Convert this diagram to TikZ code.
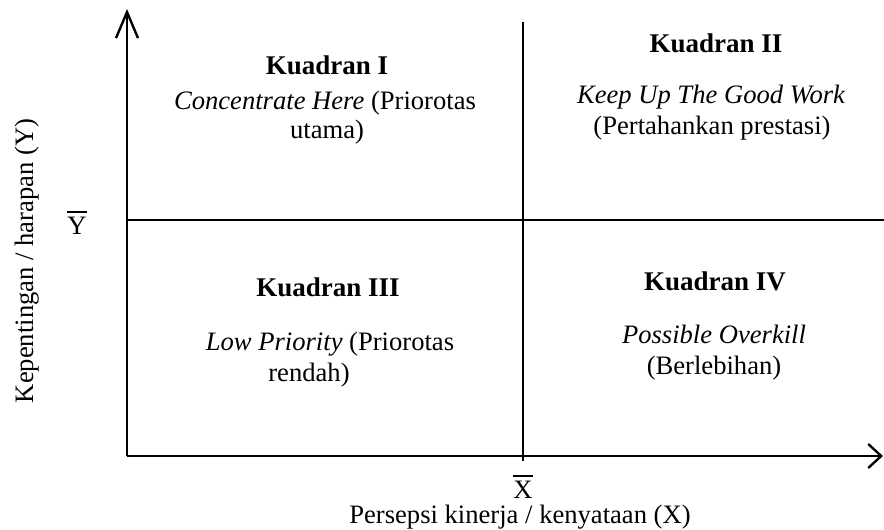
\documentclass[tikz,border=0pt]{standalone}
\usepackage{fontspec}
\setmainfont{Liberation Serif}
\usetikzlibrary{arrows.meta}
% letter with a bar above it (mean value)
\newcommand\meanof[1]{\vbox{\hrule height 1.3pt\kern 4pt\hbox{#1}}}
\begin{document}
\begin{tikzpicture}[x=1pt,y=-1pt,
  axis/.style={line width=2.4pt},
  divider/.style={line width=2.4pt},
  txt/.style={anchor=base, inner sep=0pt, font=\fontsize{26.6}{30}\selectfont},
  head/.style={txt, font=\fontsize{27}{30}\selectfont\bfseries}]
\useasboundingbox (0,0) rectangle (884,530);

% axes
\coordinate (O) at (127,456);
\coordinate (ytop) at (127,9);
\coordinate (xend) at (883,456);
\draw[axis,-{Straight Barb[length=26pt,width=22pt]}] (O) -- (ytop);
\draw[axis,-{Straight Barb[length=13pt,width=24pt]}] (O) -- (xend);

% quadrant dividers at the means
\coordinate (vtop) at (523,22);
\coordinate (vbot) at (523,461);
\coordinate (hleft) at (127,220);
\coordinate (hright) at (884,220);
\draw[divider] (vtop) -- (vbot);
\draw[divider] (hleft) -- (hright);

% axis labels
\node[txt] (ybar) at (77,234) {\meanof{Y}};
\node[txt] (xbar) at (523,498) {\meanof{X}};
\node[txt] (xlab) at (520,523) {Persepsi kinerja / kenyataan (X)};
\node[txt, rotate=90] (ylab) at (33,261) {Kepentingan / harapan (Y)};

% quadrant I
\node[head] (q1h) at (327,74) {Kuadran I};
\node[txt] (q1a) at (325,109) {\itshape Concentrate Here\upshape{} (Priorotas};
\node[txt] (q1b) at (327,138) {utama)};

% quadrant II
\node[head] (q2h) at (716,52) {Kuadran II};
\node[txt] (q2a) at (711,103) {\itshape Keep Up The Good Work};
\node[txt] (q2b) at (712,134) {(Pertahankan prestasi)};

% quadrant III
\node[head] (q3h) at (328,296) {Kuadran III};
\node[txt] (q3a) at (330,350) {\itshape Low Priority\upshape{} (Priorotas};
\node[txt] (q3b) at (309,381) {rendah)};

% quadrant IV
\node[head] (q4h) at (715,290) {Kuadran IV};
\node[txt] (q4a) at (714,343) {\itshape Possible Overkill};
\node[txt] (q4b) at (714,374) {(Berlebihan)};
\end{tikzpicture}
\end{document}
